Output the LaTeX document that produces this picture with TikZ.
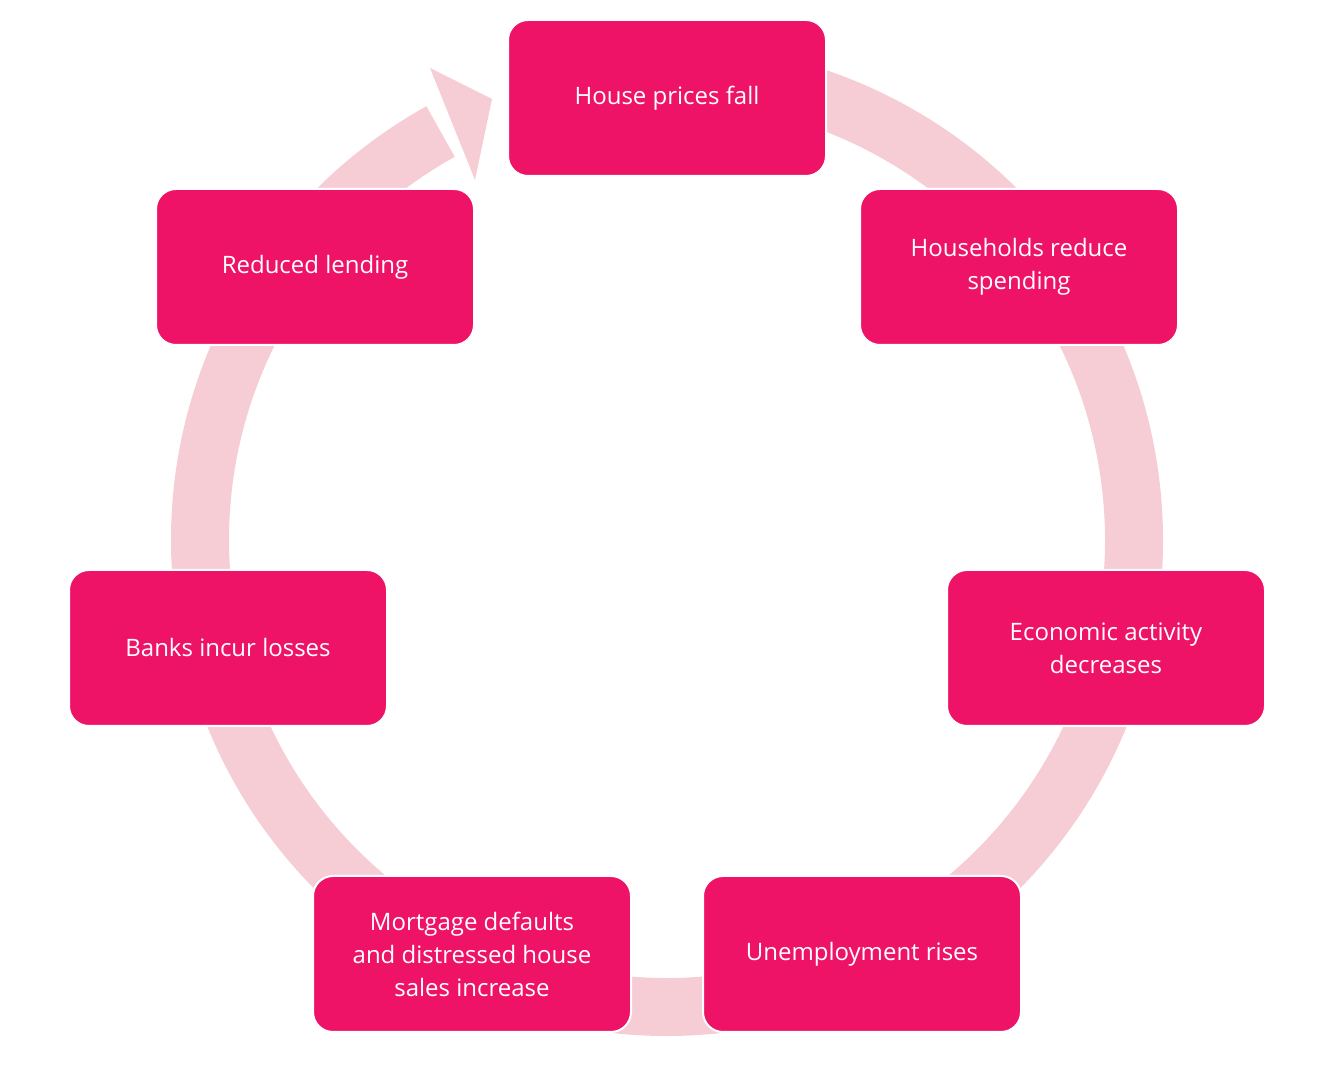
\documentclass[tikz,border=0pt]{standalone}
\usepackage{fontspec}
\setmainfont{Open Sans}
\begin{document}
\begin{tikzpicture}[x=1pt,y=1pt,
  stepbox/.style={draw=white,line width=2pt,fill=boxpink,rounded corners=20pt,minimum width=318pt,minimum height=156pt,text=white,align=center,font=\fontsize{24}{33}\selectfont,inner sep=4pt}]
\definecolor{boxpink}{HTML}{EE1366}
\definecolor{ringpink}{HTML}{F6CDD4}
\useasboundingbox (0,0) rectangle (1334,1067);
\coordinate (c) at (667,527);
\draw[ringpink,line width=58pt] (c) ++(95:467) arc[start angle=95,end angle=-241,radius=467];
\coordinate (w1) at (430,999);
\coordinate (w2) at (475,887);
\coordinate (tip) at (492,968);
\fill[ringpink] (w1) -- (tip) -- (w2) -- cycle;
\node[stepbox] (a) at (667,969) {House prices fall};
\node[stepbox] (b) at (1019,800) {Households reduce\\spending};
\node[stepbox] (d) at (1106,419) {Economic activity\\decreases};
\node[stepbox] (e) at (862,113) {Unemployment rises};
\node[stepbox] (f) at (472,113) {Mortgage defaults\\and distressed house\\sales increase};
\node[stepbox] (g) at (228,419) {Banks incur losses};
\node[stepbox] (h) at (315,800) {Reduced lending};
\end{tikzpicture}
\end{document}
